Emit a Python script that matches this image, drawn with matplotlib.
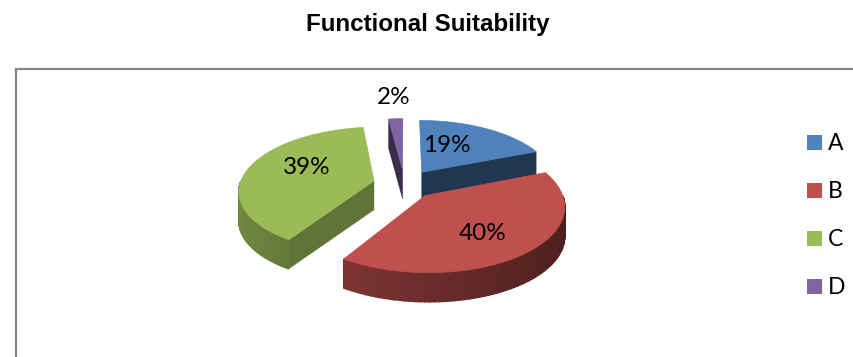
import numpy as np
import matplotlib
matplotlib.use("Agg")
import matplotlib.pyplot as plt
from matplotlib.patches import Polygon, Rectangle

categories = ["A", "B", "C", "D"]
values = [19, 40, 39, 2]
colors = ["#4F81BD", "#C0504D", "#9BBB59", "#8064A2"]
wall_shade = [0.42, 0.5, 0.62, 0.45]

# label centres in pixels, the fake 3d pie has no usable label layout
label_pos = [(447, 146), (483, 234), (307, 167), (394, 98)]
legend_y = [142.5, 190.5, 238.5, 286.5]

cx, cy = 404.5, 184
R = 134
squash = 0.465
persp = 0.144
explode = 0.235
depth = 29


def project(u, v, drop=0):
    k = 1 / (1 + persp * v)
    return cx + R * u * k, cy - R * squash * v * k + drop


def darker(col, f):
    return tuple(c * f for c in matplotlib.colors.to_rgb(col))


fig = plt.figure(figsize=(8.54, 3.57), dpi=100)
ax = fig.add_axes([0, 0, 1, 1])
ax.set_xlim(0, 854)
ax.set_ylim(357, 0)
ax.axis("off")

# chart frame, runs off the right and bottom edges
ax.plot([854, 16, 16], [69, 69, 357], color="#868686", lw=1.6, solid_joinstyle="miter")

ax.text(428, 25, "Functional Suitability", ha="center", va="center",
        family="Liberation Sans", weight="bold", fontsize=17.4, color="black")

edges = np.cumsum([0] + values) * 3.6
slices = []
for i in range(len(values)):
    a0, a1 = np.radians(edges[i]), np.radians(edges[i + 1])
    mid = (a0 + a1) / 2
    ox, oy = explode * np.sin(mid), explode * np.cos(mid)
    slices.append((i, a0, a1, ox, oy))

# back slices first so the front ones paint over them
for i, a0, a1, ox, oy in sorted(slices, key=lambda s: -s[4]):
    th = np.linspace(a0, a1, 80)
    us = ox + np.sin(th)
    vs = oy + np.cos(th)

    # flat walls of the wedge
    for a, visible in ((a0, np.sin(a0) < -1e-6), (a1, np.sin(a1) > 1e-6)):
        if visible:
            p0, p1 = project(ox, oy), project(ox + np.sin(a), oy + np.cos(a))
            q0, q1 = project(ox, oy, depth), project(ox + np.sin(a), oy + np.cos(a), depth)
            ax.add_patch(Polygon([p0, p1, q1, q0], closed=True, lw=0.3,
                                 fc=darker(colors[i], wall_shade[i]),
                                 ec=darker(colors[i], wall_shade[i])))

    # outer rim, darkening towards the right
    for j in range(len(th) - 1):
        if np.cos((th[j] + th[j + 1]) / 2) < 0.0:
            f = 0.56 - 0.17 * np.sin(th[j])
            ax.add_patch(Polygon([project(us[j], vs[j]), project(us[j + 1], vs[j + 1]),
                                  project(us[j + 1], vs[j + 1], depth), project(us[j], vs[j], depth)],
                                 closed=True, lw=1.2, fc=darker(colors[i], f), ec=darker(colors[i], f)))

    top = [project(ox, oy)] + [project(u, v) for u, v in zip(us, vs)]
    ax.add_patch(Polygon(top, closed=True, fc=colors[i], ec=colors[i], lw=0.5))

for v, (x, y) in zip(values, label_pos):
    ax.text(x, y, f"{v}%", ha="center", va="center", family="Lato", fontsize=17.5, color="black")

for name, col, y in zip(categories, colors, legend_y):
    ax.add_patch(Rectangle((807, y - 7.5), 15, 15, fc=col, ec="none"))
    ax.text(828, y + 1, name, ha="left", va="center", family="Lato", fontsize=16.5, color="black")

fig.savefig("out.png", dpi=100)
